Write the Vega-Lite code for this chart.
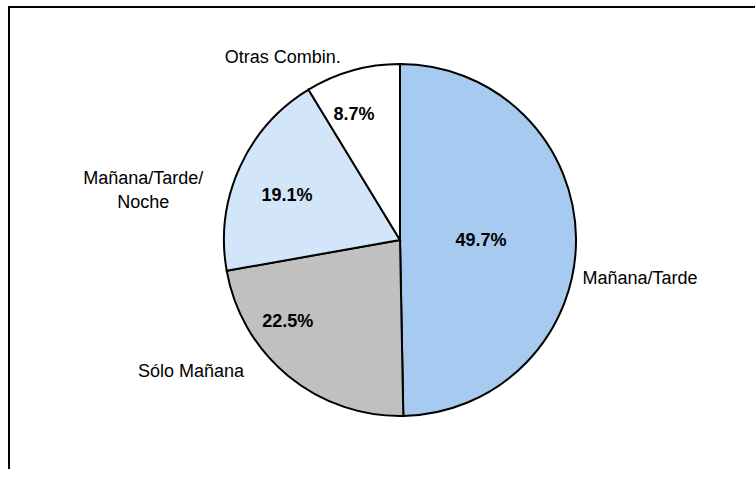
{
  "$schema": "https://vega.github.io/schema/vega-lite/v6.json",
  "width": 782,
  "height": 466,
  "autosize": {"type": "none"},
  "padding": {"left": 9, "top": 7, "right": -36, "bottom": -4},
  "background": "white",
  "view": {"stroke": "black", "strokeWidth": 2, "fill": "white"},
  "config": {
    "view": {"stroke": "black", "strokeWidth": 2},
    "text": {"font": "Liberation Sans", "fontSize": 18, "color": "black", "align": "center", "baseline": "middle"}
  },
  "data": {
    "values": [
      {"categoria": "Mañana/Tarde", "etiqueta": "Mañana/Tarde", "porcentaje": 0.497, "orden": 1},
      {"categoria": "Sólo Mañana", "etiqueta": "Sólo Mañana", "porcentaje": 0.225, "orden": 2},
      {"categoria": "Mañana/Tarde/Noche", "etiqueta": "Mañana/Tarde/\nNoche", "porcentaje": 0.191, "orden": 3},
      {"categoria": "Otras Combin.", "etiqueta": "Otras Combin.", "porcentaje": 0.087, "orden": 4}
    ]
  },
  "encoding": {
    "theta": {"field": "porcentaje", "type": "quantitative", "stack": true},
    "order": {"field": "orden", "type": "quantitative"}
  },
  "layer": [
    {
      "mark": {"type": "arc", "outerRadius": 176, "stroke": "black", "strokeWidth": 2},
      "encoding": {
        "color": {
          "field": "categoria",
          "type": "nominal",
          "scale": {
            "domain": ["Mañana/Tarde", "Sólo Mañana", "Mañana/Tarde/Noche", "Otras Combin."],
            "range": ["#A6CAF0", "#C0C0C0", "#D3E5F8", "#FFFFFF"]
          },
          "legend": null
        }
      }
    },
    {
      "mark": {"type": "text", "radius": 81, "dy": 2, "fontWeight": "bold"},
      "encoding": {"text": {"condition": {"test": "datum.orden == 1", "field": "porcentaje", "type": "quantitative", "format": ".1%"}, "value": ""}}
    },
    {
      "mark": {"type": "text", "radius": 128, "dx": -31, "dy": -17, "fontWeight": "bold"},
      "encoding": {"text": {"condition": {"test": "datum.orden == 2", "field": "porcentaje", "type": "quantitative", "format": ".1%"}, "value": ""}}
    },
    {
      "mark": {"type": "text", "radius": 124, "dy": 7, "fontWeight": "bold"},
      "encoding": {"text": {"condition": {"test": "datum.orden == 3", "field": "porcentaje", "type": "quantitative", "format": ".1%"}, "value": ""}}
    },
    {
      "mark": {"type": "text", "radius": 130, "dx": -11, "fontWeight": "bold"},
      "encoding": {"text": {"condition": {"test": "datum.orden == 4", "field": "porcentaje", "type": "quantitative", "format": ".1%"}, "value": ""}}
    },
    {
      "mark": {"type": "text", "radius": 240, "dy": 41},
      "encoding": {"text": {"condition": {"test": "datum.orden == 1", "field": "etiqueta", "type": "nominal"}, "value": ""}}
    },
    {
      "mark": {"type": "text", "radius": 200, "dx": -82, "dy": -23},
      "encoding": {"text": {"condition": {"test": "datum.orden == 2", "field": "etiqueta", "type": "nominal"}, "value": ""}}
    },
    {
      "mark": {"type": "text", "radius": 240, "dx": -38, "dy": 38, "lineBreak": "\n", "lineHeight": 24},
      "encoding": {"text": {"condition": {"test": "datum.orden == 3", "field": "etiqueta", "type": "nominal"}, "value": ""}}
    },
    {
      "mark": {"type": "text", "radius": 190, "dx": -66, "dy": 1},
      "encoding": {"text": {"condition": {"test": "datum.orden == 4", "field": "etiqueta", "type": "nominal"}, "value": ""}}
    }
  ]
}
